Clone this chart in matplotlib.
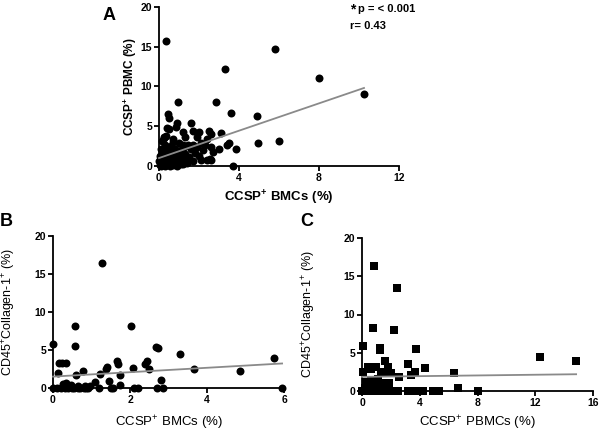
import matplotlib
matplotlib.use("Agg")
import matplotlib.pyplot as plt
import numpy as np

plt.rcParams['font.family'] = ['Liberation Sans', 'DejaVu Sans']
plt.rcParams['mathtext.fontset'] = 'custom'
plt.rcParams['mathtext.rm'] = 'Liberation Sans'
plt.rcParams['mathtext.bf'] = 'Liberation Sans:bold'
plt.rcParams['mathtext.default'] = 'regular'

# ---------------- Panel A: CCSP+ BMCs vs CCSP+ PBMC ----------------
a_x = [0.34, 5.8, 3.3, 8.0, 0.93, 2.83, 0.47, 0.52, 3.6, 4.9, 1.6, 0.88, 0.86, 0.38, 0.5,
       1.2, 1.7, 2.0, 2.5, 2.6, 3.1, 0.25, 0.35, 1.3, 1.9, 2.4, 0.7, 1.0, 1.2, 3.5, 3.4,
       3.85, 1.7, 2.1, 2.3, 2.6, 3.0, 2.7, 2.55, 2.4, 2.6, 3.7, 4.95, 6.0, 10.25,
       0.05, 0.1, 0.15, 0.2, 0.25, 0.3, 0.35, 0.4, 0.45, 0.5, 0.55, 0.6, 0.65, 0.7, 0.75,
       0.8, 0.85, 0.9, 0.95, 1.0, 1.05, 1.1, 1.15, 1.2, 1.3, 1.35, 1.4, 1.5, 1.6, 1.7,
       1.8, 1.9, 2.0, 2.1, 2.2, 0.1, 0.2, 0.3, 0.15, 0.25, 0.4, 0.6, 0.7, 0.8, 1.25,
       1.45, 0.05, 0.0, 0.1, 0.3, 0.55, 0.9, 1.1, 0.45, 0.65]
a_y = [15.7, 14.7, 12.2, 11.1, 8.1, 8.1, 6.5, 6.1, 6.7, 6.3, 5.4, 5.4, 4.9, 4.8, 4.6,
       4.3, 4.4, 4.3, 4.4, 4.0, 4.2, 3.6, 3.8, 3.6, 3.6, 3.4, 3.4, 2.9, 2.7, 2.9, 2.6,
       2.1, 2.7, 2.9, 2.6, 2.4, 2.1, 1.8, 0.9, 0.7, 0.7, 0.0, 2.9, 3.1, 9.1,
       0.1, 0.5, 0.2, 1.0, 0.3, 0.8, 0.1, 1.5, 0.4, 0.9, 0.2, 1.3, 0.6, 0.1, 1.1,
       0.4, 1.8, 0.7, 0.2, 1.2, 0.5, 2.0, 0.9, 0.3, 1.5, 0.8, 0.4, 1.1, 2.2, 0.6,
       1.6, 2.4, 1.3, 0.8, 2.0, 2.2, 1.8, 2.6, 3.2, 3.5, 2.1, 2.5, 3.0, 2.2, 2.4,
       2.7, 1.3, 0.6, 0.0, 0.0, 0.0, 0.0, 0.2, 1.9, 1.6]
a_fit = (1.0, 0.86)   # intercept, slope

# ---------------- Panel B: CCSP+ BMCs vs CD45+Collagen-1+ ----------------
b_x = [1.27, 0.56, 0.56, 2.02, 0.0, 2.68, 2.72, 3.31, 5.74, 1.65, 1.7, 2.45, 2.4, 1.4,
       1.37, 0.15, 0.24, 0.33, 0.13, 0.78, 2.08, 3.67, 4.87, 2.5, 1.21, 0.6, 1.75, 1.45,
       1.08, 1.75, 2.8, 0.26, 0.46, 0.65, 0.83, 0.33, 0.95,
       0.0, 0.1, 0.2, 0.3, 0.4, 0.5, 0.55, 0.65, 0.7, 0.8, 0.85, 0.9, 1.2, 1.5, 1.55,
       2.1, 2.2, 2.7, 2.85, 5.95]
b_y = [16.4, 8.1, 5.5, 8.1, 5.8, 5.4, 5.2, 4.5, 3.9, 3.6, 3.1, 3.5, 3.1, 2.8,
       2.5, 3.3, 3.3, 3.3, 2.0, 2.2, 2.6, 2.5, 2.2, 2.5, 1.8, 1.75, 1.75, 0.9,
       0.8, 0.45, 1.1, 0.5, 0.4, 0.3, 0.3, 0.6, 0.2,
       0.0, 0.0, 0.0, 0.0, 0.0, 0.0, 0.0, 0.0, 0.0, 0.0, 0.0, 0.0, 0.0, 0.0, 0.0,
       0.0, 0.0, 0.0, 0.0, 0.0]
b_fit = (1.5, 0.29)

# ---------------- Panel C: CCSP+ PBMCs vs CD45+Collagen-1+ ----------------
c_x = [0.86, 2.44, 0.74, 2.25, 0.05, 1.25, 1.28, 3.76, 12.34, 14.83, 3.18, 4.34, 1.62,
       1.79, 3.64, 3.41, 6.36, 2.53, 1.9, 6.66, 0.05, 0.4, 0.63, 0.97, 1.3, 1.67, 2.0,
       0.3, 0.6, 1.1, 0.45, 0.8, 1.5, 0.2, 0.9, 1.4,
       0.0, 0.2, 0.4, 0.6, 0.8, 1.0, 1.2, 1.5, 1.7, 2.0, 2.3, 2.5, 3.2, 3.5, 3.8,
       4.0, 4.2, 4.9, 5.0, 5.3, 8.0]
c_y = [16.4, 13.4, 8.3, 8.0, 5.9, 5.6, 5.3, 5.5, 4.5, 3.9, 3.5, 3.0, 3.9,
       3.2, 2.5, 2.1, 2.3, 1.8, 1.1, 0.4, 2.5, 3.2, 2.9, 3.2, 2.5, 2.5, 2.3,
       1.2, 1.4, 1.6, 0.7, 0.9, 0.5, 0.4, 0.3, 1.0,
       0.0, 0.0, 0.0, 0.0, 0.0, 0.0, 0.0, 0.0, 0.0, 0.0, 0.0, 0.0, 0.0, 0.0, 0.0,
       0.0, 0.0, 0.0, 0.0, 0.0, 0.0]
c_fit = (1.85, 0.023)

a_xticks = [0, 4, 8, 12]
b_xticks = [0, 2, 4, 6]
c_xticks = [0, 4, 8, 12, 16]
y_ticks = [0, 5, 10, 15, 20]

W, H = 600, 433
fig = plt.figure(figsize=(6.0, 4.33), dpi=100, facecolor='white')

def px_axes(x0, x1, y0, y1):
    return fig.add_axes([x0 / W, 1 - y1 / H, (x1 - x0) / W, (y1 - y0) / H])

def style(ax, xticks, xmax):
    ax.set_xlim(0, xmax)
    ax.set_ylim(0, 20)
    ax.set_xticks(xticks)
    ax.set_yticks(y_ticks)
    for s in ['top', 'right']:
        ax.spines[s].set_visible(False)
    for s in ['left', 'bottom']:
        ax.spines[s].set_linewidth(1.3)
    ax.tick_params(direction='out', length=3.5, width=1.3, labelsize=7.5, pad=1.5)
    for lab in ax.get_xticklabels() + ax.get_yticklabels():
        lab.set_fontweight('bold')
    ax.set_facecolor('none')

def fit_line(ax, xs, fit):
    xx = np.array([0, max(xs)])
    ax.plot(xx, fit[0] + fit[1] * xx, color='#8a8a8a', lw=1.3, zorder=3, clip_on=False)

def place_labels(ax, xl, yl, xpos, ypos, weight='normal', ysize=9):
    ax.set_xlabel(xl, fontsize=9.5, fontweight=weight)
    ax.set_ylabel(yl, fontsize=ysize, fontweight=weight)
    ax.xaxis.set_label_coords(0.5, xpos)
    ax.xaxis.label.set_va('center')
    ax.yaxis.set_label_coords(ypos, 0.5)
    ax.yaxis.label.set_va('center')

# Panel A
axA = px_axes(159, 399, 7, 166)
axA.scatter(a_x, a_y, s=33, c='black', marker='o', linewidths=0, zorder=2, clip_on=False)
fit_line(axA, a_x, a_fit)
style(axA, a_xticks, 12)
place_labels(axA, 'CCSP$^{+}$ BMCs (%)', 'CCSP$^{+}$ PBMC (%)',
             (166 - 198) / 159, (130 - 159) / 240, weight='bold', ysize=8.5)

# Panel B
axB = px_axes(53, 284, 236, 388)
axB.scatter(b_x, b_y, s=33, c='black', marker='o', linewidths=0, zorder=2, clip_on=False)
fit_line(axB, b_x, b_fit)
style(axB, b_xticks, 6)
place_labels(axB, 'CCSP$^{+}$ BMCs (%)', 'CD45$^{+}$Collagen-1$^{+}$ (%)',
             (388 - 423) / 152, (9 - 53) / 231)

# Panel C
axC = px_axes(362, 593, 238, 391)
axC.scatter(c_x, c_y, s=30, c='black', marker='s', linewidths=0, zorder=2, clip_on=False)
fit_line(axC, c_x, c_fit)
style(axC, c_xticks, 16)
place_labels(axC, 'CCSP$^{+}$ PBMCs (%)', 'CD45$^{+}$Collagen-1$^{+}$ (%)',
             (391 - 423) / 153, (309 - 362) / 231)

# Panel letters
fig.text(103 / W, 1 - 15 / H, 'A', fontsize=13, fontweight='bold', va='center', ha='left')
fig.text(0 / W, 1 - 222 / H, 'B', fontsize=13, fontweight='bold', va='center', ha='left')
fig.text(300 / W, 1 - 222 / H, 'C', fontsize=13, fontweight='bold', va='center', ha='left')

# Statistics text
fig.text(350 / W, 1 - 9 / H, '*', fontsize=10, fontweight='bold', va='center', ha='left')
fig.text(358 / W, 1 - 9 / H, 'p = < 0.001', fontsize=8, fontweight='bold', va='center', ha='left')
fig.text(350 / W, 1 - 26 / H, 'r= 0.43', fontsize=8, fontweight='bold', va='center', ha='left')

fig.savefig('out.png', dpi=100, facecolor='white')
